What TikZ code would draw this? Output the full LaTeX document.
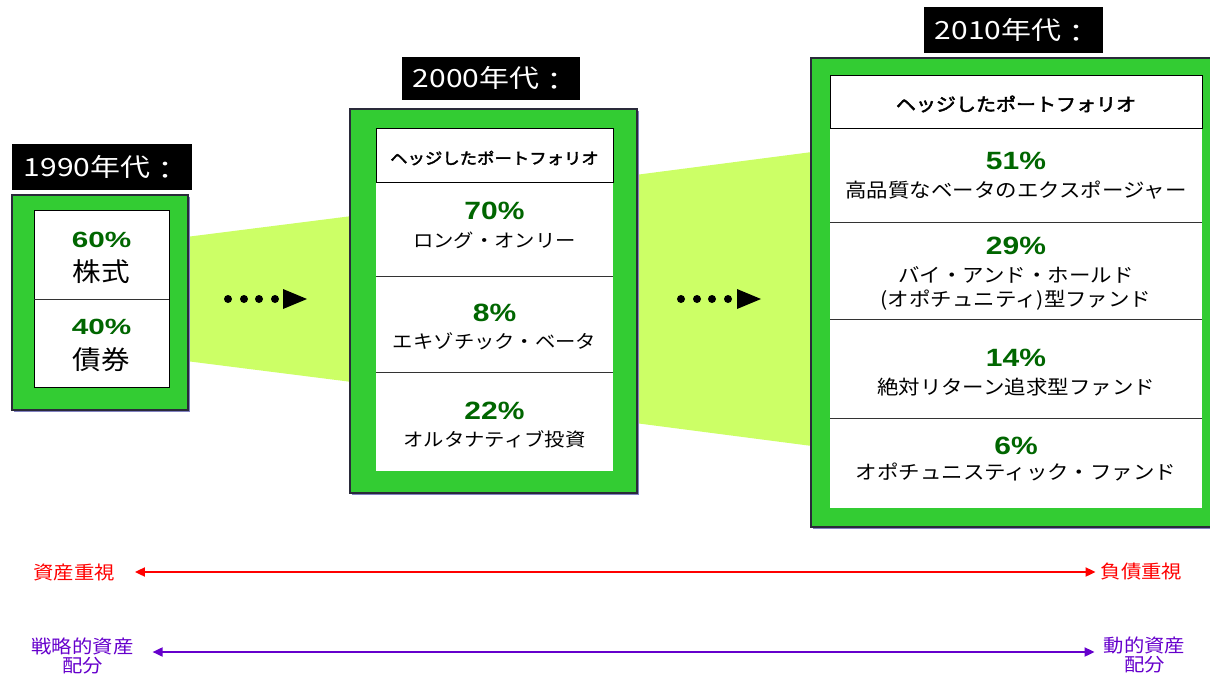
\documentclass[tikz,border=0pt]{standalone}
\usepackage{fontspec}
\setmainfont{Liberation Sans}
\newfontfamily\jpfont{Noto Sans CJK JP}[FakeStretch=1.1]
\newfontfamily\jpbfont{Noto Sans CJK JP}[FakeStretch=1.1,FakeBold=2.5]
\newfontfamily\lblfont{Noto Sans CJK JP}[FakeStretch=1.2]
\newfontfamily\pctfont{Liberation Sans}[FakeStretch=1.2]
\newfontfamily\pctwfont{Liberation Sans}[FakeStretch=1.35]
\usetikzlibrary{arrows.meta}
\definecolor{boxgreen}{HTML}{33CC33}
\definecolor{limeg}{HTML}{CCFF66}
\definecolor{pgreen}{HTML}{006600}
\definecolor{shadowc}{HTML}{8080C0}
\definecolor{edgec}{HTML}{2A2A3A}
\definecolor{purp}{HTML}{6600CC}
\definecolor{redc}{HTML}{FF0000}
\newcommand{\lowcolon}{\raisebox{-3pt}{：}}
\tikzset{
  gbox/.style={fill=boxgreen, draw=edgec, line width=1.2pt},
  gshadow/.style={fill=shadowc},
  funnel/.style={fill=limeg},
  wbox/.style={fill=white, draw=black, line width=0.8pt},
  wbody/.style={fill=white},
  divline/.style={draw=black!80, line width=0.8pt},
  declabel/.style={fill=black, text=white, inner sep=0pt, font=\lblfont\fontsize{25}{25}\selectfont},
  pcttext/.style={text=pgreen, inner sep=0pt, font=\pctfont\bfseries\fontsize{25}{25}\selectfont},
  pctbig/.style={text=pgreen, inner sep=0pt, font=\pctwfont\bfseries\fontsize{22}{22}\selectfont},
  bodyA/.style={inner sep=0pt, font=\jpfont\fontsize{26}{26}\selectfont},
  bodyB/.style={inner sep=0pt, font=\jpfont\fontsize{18.5}{18.5}\selectfont},
  bodyC/.style={inner sep=0pt, align=center, font=\jpfont\fontsize{19.5}{24}\selectfont},
  headB/.style={inner sep=0pt, font=\jpbfont\fontsize{15.8}{15.8}\selectfont},
  headC/.style={inner sep=0pt, font=\jpbfont\fontsize{18.2}{18.2}\selectfont},
  redtext/.style={text=redc, inner sep=0pt, font=\jpfont\fontsize{18.5}{18.5}\selectfont},
  purptext/.style={text=purp, inner sep=0pt, align=center, font=\jpfont\fontsize{18.5}{19}\selectfont},
  redline/.style={draw=redc, line width=1.8pt, {Triangle[length=10pt,width=9pt]}-{Triangle[length=10pt,width=9pt]}},
  purpline/.style={draw=purp, line width=1.8pt, {Triangle[length=10pt,width=9pt]}-{Triangle[length=10pt,width=9pt]}},
}
\begin{document}
\begin{tikzpicture}[x=1pt,y=-1pt]
\useasboundingbox (0,0) rectangle (1210,673);
\begin{scope}
\clip (0,0) rectangle (1210,673);
% funnels
\fill[funnel] (186,237) -- (352,216) -- (352,382) -- (186,361) -- cycle;
\fill[funnel] (635,175) -- (812,152) -- (812,446) -- (635,423) -- cycle;

% dotted arrows
\foreach \x in {228,244,259,275} \fill (\x,299) circle (4);
\fill (283,289) -- (307,299) -- (283,309) -- cycle;
\foreach \x in {681,697,712,728} \fill (\x,299) circle (4);
\fill (737,289) -- (761,299) -- (737,309) -- cycle;

% box 1
\fill[gshadow] (14,197) rectangle (190,412);
\path[gbox] (12,195) rectangle (188,410);
\path[wbox] (34,210) rectangle (169,387);
\draw[divline] (34,299) -- (169,299);

% box 2
\fill[gshadow] (352,111) rectangle (639,495);
\path[gbox] (350,109) rectangle (637,493);
\fill[wbody] (376,182) rectangle (613,471);
\path[wbox] (376,128) rectangle (613,182);
\draw[divline] (376,276) -- (613,276);
\draw[divline] (376,372) -- (613,372);

% box 3
\fill[gshadow] (813,60) rectangle (1230,529);
\path[gbox] (811,58) rectangle (1228,527);
\fill[wbody] (830,128) rectangle (1202,508);
\path[wbox] (830,75) rectangle (1202,128);
\draw[divline] (830,222) -- (1202,222);
\draw[divline] (830,319) -- (1202,319);
\draw[divline] (830,418) -- (1202,418);
\end{scope}

% decade labels
\node[declabel, minimum width=180pt, minimum height=46pt] (d1) at (102,167) {1990年代\lowcolon};
\node[declabel, minimum width=178pt, minimum height=43pt] (d2) at (491,78) {2000年代\lowcolon};
\node[declabel, minimum width=179pt, minimum height=46pt] (d3) at (1013,30) {2010年代\lowcolon};

% box 1 texts
\node[pctbig] (p60) at (101.5,240) {60\%};
\node[bodyA] (t60) at (101.5,272) {株式};
\node[pctbig] (p40) at (101.5,327) {40\%};
\node[bodyA] (t40) at (101.5,360) {債券};

% box 2 texts
\node[headB] (h2) at (494.5,158) {ヘッジしたポートフォリオ};
\node[pcttext] (p70) at (494.5,211) {70\%};
\node[bodyB] (t70) at (494.5,240) {ロング・オンリー};
\node[pcttext] (p8) at (494.5,313) {8\%};
\node[bodyB] (t8) at (494.5,341) {エキゾチック・ベータ};
\node[pcttext] (p22) at (494.5,411) {22\%};
\node[bodyB] (t22) at (494.5,439) {オルタナティブ投資};

% box 3 texts
\node[headC] (h3) at (1016,104) {ヘッジしたポートフォリオ};
\node[pcttext] (p51) at (1016,161) {51\%};
\node[bodyC] (t51) at (1016,190) {高品質なベータのエクスポージャー};
\node[pcttext] (p29) at (1016,246) {29\%};
\node[bodyC] (t29) at (1016,288) {バイ・アンド・ホールド\\(オポチュニティ)型ファンド};
\node[pcttext] (p14) at (1016,358) {14\%};
\node[bodyC] (t14) at (1016,387) {絶対リターン追求型ファンド};
\node[pcttext] (p6) at (1016,446) {6\%};
\node[bodyC] (t6) at (1016,472) {オポチュニスティック・ファンド};

% bottom axes
\node[redtext] (asset) at (74,572) {資産重視};
\node[redtext] (liab) at (1141.5,572) {負債重視};
\draw[redline, shorten <=20pt, shorten >=5pt] (asset.east) -- (liab.west);

\node[purptext] (saa) at (82.5,655.5) {戦略的資産\\配分};
\node[purptext] (daa) at (1144.5,654.5) {動的資産\\配分};
\draw[purpline, shorten <=19pt, shorten >=9pt] ([yshift=3.5pt]saa.east) -- ([yshift=2.5pt]daa.west);
\end{tikzpicture}
\end{document}
